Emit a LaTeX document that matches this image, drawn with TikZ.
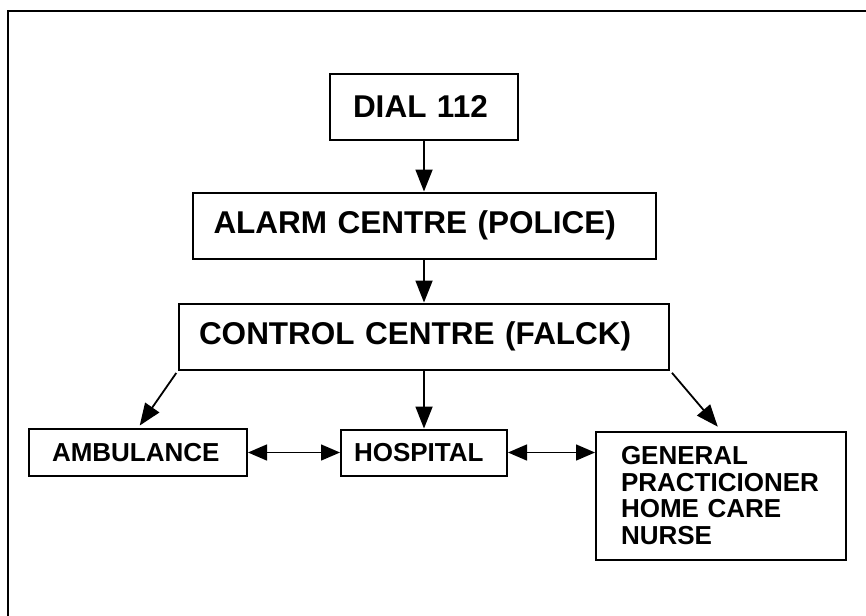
\documentclass[tikz,border=0pt]{standalone}
\usepackage{fontspec}
\setmainfont{Liberation Sans}
\usetikzlibrary{positioning, arrows.meta}
\tikzset{
  base/.style={
    draw, line width=1pt, rectangle, align=left, font=\bfseries
  },
  topbox/.style={
    base, font=\bfseries\fontsize{15.75}{18}\selectfont
  },
  lowbox/.style={
    base, font=\bfseries\fontsize{13}{13.4}\selectfont
  },
  arr/.style={
    -{Triangle[length=11pt, width=8.5pt]}, line width=0.9pt
  },
  dblarr/.style={
    {Triangle[length=9.5pt, width=8pt]}-{Triangle[length=9.5pt, width=8pt]}, line width=0.7pt
  }
}
\begin{document}
\begin{tikzpicture}[x=0.5pt, y=-0.5pt]

    \useasboundingbox (0,0) rectangle (866,615);

    % outer frame
    \draw [line width=1.2pt] (8,640) -- (8,11) -- (890,11);

    % ============================================================
    % VERTICAL FLOW NODES
    % ============================================================
    \node (dial) [topbox, text width=71pt, inner xsep=11.5pt, minimum height=32.5pt] at (424,107) {DIAL 112};

    \node (alarm) [topbox, below=25.5pt of dial, text width=210.5pt, inner xsep=10.5pt, minimum height=33pt] {ALARM CENTRE (POLICE)};

    \node (control) [topbox, below=21.5pt of alarm, text width=225pt, inner xsep=10pt, minimum height=33pt] {CONTROL CENTRE (FALCK)};

    % ============================================================
    % BOTTOM ROW
    % ============================================================
    \node (hospital) [lowbox, below=29pt of control, text width=70pt, inner xsep=6.5pt, minimum height=23pt] {HOSPITAL};

    \node (ambulance) [lowbox, left=46pt of hospital, text width=86pt, inner xsep=11.5pt, minimum height=23.5pt] {AMBULANCE};

    \node (gp) [lowbox, right=43.5pt of hospital.north east, anchor=north west, yshift=-1pt, text width=100pt, inner xsep=12.5pt, minimum height=64pt] {GENERAL\\PRACTICIONER\\HOME CARE\\NURSE};

    % ============================================================
    % CONNECTIONS
    % ============================================================
    \draw [arr] (dial) -- (alarm);
    \draw [arr] (alarm) -- (control);
    \draw [arr] (control) -- (hospital);
    \draw [arr, shorten <=1.5pt, shorten >=1.5pt] (control.south west) -- (ambulance.north);
    \draw [arr, shorten <=1.5pt, shorten >=2.5pt] (control.south east) -- (gp.north);

    % side links
    \draw [dblarr] (ambulance) -- (hospital);
    \draw [dblarr] (hospital.east) -- (hospital.east -| gp.west);

\end{tikzpicture}
\end{document}
